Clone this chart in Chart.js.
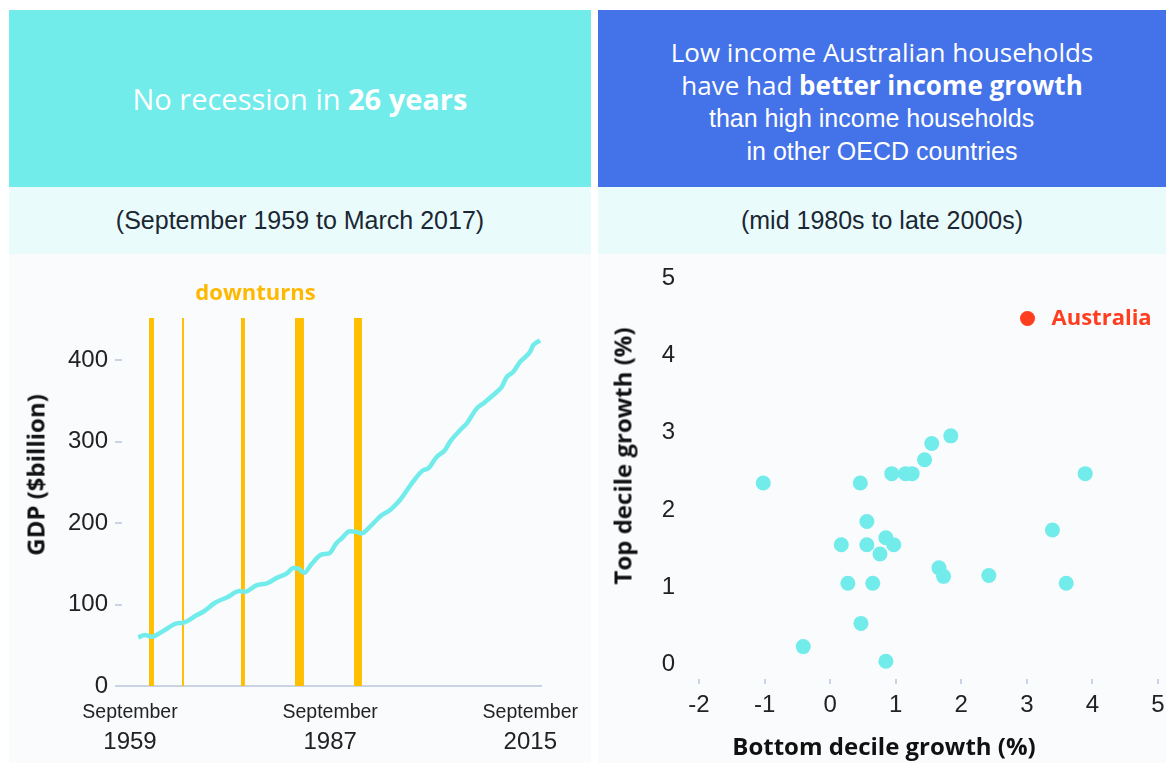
<!DOCTYPE html>
<html>
<head>
<meta charset="utf-8">
<script src="https://cdn.jsdelivr.net/npm/chart.js@4.4.0/dist/chart.umd.min.js"></script>
<style>
  body { margin: 0; background: #fff; width: 1166px; height: 763px; position: relative; overflow: hidden; font-family: 'Open Sans', sans-serif; }
  .panel { position: absolute; top: 10px; }
  #left { left: 9px; width: 582px; }
  #right { left: 598px; width: 568px; }
  .head { height: 177px; display: flex; flex-direction: column; justify-content: center; align-items: center; color: #fff; text-align: center; box-sizing: border-box; }
  #left .head { background: #72EBEB; font-size: 29px; }
  #right .head { background: #4472E8; font-size: 26px; line-height: 33px; padding-top: 7px; }
  .ar { font-family: 'Liberation Sans', Arial, sans-serif; font-size: 25px; }
  .sub { height: 67px; background: #EAFBFC; display: flex; align-items: center; justify-content: center; font-family: 'Liberation Sans', Arial, sans-serif; font-size: 25px; color: #1b2733; }
  .plot { height: 509px; background: #F9FBFD; position: relative; }
  canvas { display: block; }
  .axt { position: absolute; font-weight: 700; font-size: 24px; color: #111; white-space: nowrap; transform: translate(-50%, -50%); }
  .rot { transform: translate(-50%, -50%) rotate(-90deg); }
</style>
</head>
<body>
<div class="panel" id="left">
  <div class="head"><div>No recession in <b>26 years</b></div></div>
  <div class="sub">(September 1959 to March 2017)</div>
  <div class="plot">
    <canvas id="gdp-chart" width="582" height="509"></canvas>
    <div class="axt rot" style="left:26px; top:221px;">GDP ($billion)</div>
  </div>
</div>
<div class="panel" id="right">
  <div class="head">
    <div>Low income Australian households</div>
    <div>have had <b>better income growth</b></div>
    <div class="ar">than high income households&nbsp;&nbsp;&nbsp;</div>
    <div class="ar">in other OECD countries</div>
  </div>
  <div class="sub">(mid 1980s to late 2000s)</div>
  <div class="plot">
    <canvas id="decile-chart" width="568" height="509"></canvas>
    <div class="axt rot" style="left:24px; top:202px;">Top decile growth (%)</div>
    <div class="axt" style="left:286px; top:491px;">Bottom decile growth (%)</div>
  </div>
</div>

<script>
// GDP series (year as decimal, $billion)
const gdpYears = [1960.9, 1961.85, 1962.8, 1964.4, 1966.3, 1967.2, 1969.1, 1970.0, 1971.65, 1973.3,
    1975.1, 1975.8, 1977.5, 1978.9, 1980.3, 1981.7, 1982.6, 1983.3, 1984.1, 1985.15,
    1986.55, 1987.6, 1988.6, 1989.35, 1990.5, 1991.45, 1992.15, 1993.3, 1994.95, 1996.1,
    1997.5, 1999.15, 2000.75, 2001.45, 2002.65, 2003.8, 2004.5, 2006.15, 2006.85, 2008.25,
    2009.15, 2011.05, 2011.75, 2012.45, 2013.35, 2014.3, 2015.7, 2016.15, 2017.1];
const gdpValues = [59.8, 62.6, 60.5, 67.5, 76.9, 77.7, 87.1, 91.2, 102.2, 108.8,
    116.6, 115.7, 123.9, 126, 132.9, 138.3, 144.8, 144.4, 139, 149.7,
    161.6, 162.8, 175.1, 181.2, 190.2, 189.3, 187.4, 195.5, 209.8, 216,
    228.2, 248.7, 265, 267.1, 281.3, 289.6, 299.8, 316.2, 322.3, 340.7,
    346.9, 361.1, 367.2, 379.5, 385.6, 397.9, 410.2, 418.4, 424.5];

// Downturn periods
const downturnStart = [1962.4, 1967.02, 1975.27, 1982.83, 1991.08];
const downturnEnd = [1963.1, 1967.3, 1975.83, 1984.09, 1992.2];

// Axis ticks for the GDP chart
const gdpTicks = [0, 100, 200, 300, 400];
const dateTicks = [1959.75, 1987.75, 2015.75];
const dateMonths = ['September', 'September', 'September'];
const dateYears = ['1959', '1987', '2015'];
const gdpMax = 452;

// Income growth by country (bottom decile %, top decile %)
const otherBottom = [-1.02, 0.46, 0.94, 1.15, 1.25, 1.44, 1.55, 1.84, 3.89, 0.56,
    0.17, 0.56, 0.85, 0.76, 0.97, 0.27, 0.65, 0.47, -0.41, 0.85,
    3.39, 1.66, 1.73, 2.42, 3.6];
const otherTop = [2.35, 2.35, 2.47, 2.47, 2.47, 2.65, 2.86, 2.96, 2.47, 1.85,
    1.55, 1.55, 1.64, 1.43, 1.55, 1.05, 1.05, 0.53, 0.23, 0.04,
    1.74, 1.25, 1.14, 1.15, 1.05];
const australiaBottom = [3.01];
const australiaTop = [4.48];
const highlightName = 'Australia';
const bottomTicks = [-2, -1, 0, 1, 2, 3, 4, 5];
const topTicks = [0, 1, 2, 3, 4, 5];

Chart.defaults.font.family = "'Liberation Sans', Arial, sans-serif";
Chart.defaults.color = '#222';
Chart.defaults.animation = false;
Chart.defaults.plugins.legend.display = false;
Chart.defaults.plugins.tooltip.enabled = false;

const cyan = '#72EBEB';
const orange = '#FFBF00';
const axisGrey = '#C8D4E3';
const clear = 'rgba(0,0,0,0)';

// Label above the downturn bands
const downturnLabel = {
    id: 'downturnLabel',
    afterDraw(chart) {
        const { ctx, chartArea } = chart;
        const x = chart.scales.x;
        const mid = (downturnStart[0] + downturnEnd[downturnEnd.length - 1]) / 2;
        ctx.save();
        ctx.font = "700 22px 'Open Sans'";
        ctx.fillStyle = '#FFB800';
        ctx.textAlign = 'center';
        ctx.textBaseline = 'middle';
        ctx.fillText('downturns', x.getPixelForValue(mid), chartArea.top - 24);
        ctx.restore();
    }
};

// Band datasets for downturns
const bandSets = downturnStart.map(function(s, i) {
    return {
        type: 'line',
        data: [{ x: s, y: gdpMax }, { x: downturnEnd[i], y: gdpMax }],
        fill: 'origin',
        backgroundColor: orange,
        borderWidth: 0,
        pointRadius: 0,
        order: 1
    };
});

new Chart(document.getElementById('gdp-chart'), {
    type: 'line',
    data: {
        datasets: [{
            data: gdpYears.map((x, i) => ({ x: x, y: gdpValues[i] })),
            borderColor: cyan,
            borderWidth: 4.5,
            cubicInterpolationMode: 'monotone',
            pointRadius: 0,
            fill: false,
            order: 0
        }].concat(bandSets)
    },
    options: {
        responsive: false,
        layout: { padding: { left: 0, right: 50, top: 64, bottom: 0 } },
        scales: {
            x: {
                type: 'linear',
                min: 1958.63,
                max: 2017.25,
                weight: 0,
                afterBuildTicks: s => { s.ticks = dateTicks.map(v => ({ value: v })); },
                afterFit: s => { s.height = 38; },
                ticks: {
                    autoSkip: false, maxRotation: 0, padding: 2,
                    font: { size: 19.5 }, color: '#222',
                    callback: (v, i) => dateMonths[i]
                },
                grid: { display: true, drawOnChartArea: false, drawTicks: true, tickLength: 13, color: clear },
                border: { display: true, color: axisGrey, width: 2 }
            },
            x2: {
                type: 'linear',
                position: 'bottom',
                min: 1958.63,
                max: 2017.25,
                weight: 1,
                afterBuildTicks: s => { s.ticks = dateTicks.map(v => ({ value: v })); },
                afterFit: s => { s.height = 39; },
                ticks: {
                    autoSkip: false, maxRotation: 0, padding: 1,
                    font: { size: 24, lineHeight: 0.8 }, color: '#222',
                    callback: (v, i) => dateYears[i]
                },
                grid: { display: false },
                border: { display: false }
            },
            y: {
                min: 0,
                max: gdpMax,
                afterBuildTicks: s => { s.ticks = gdpTicks.map(v => ({ value: v })); },
                afterFit: s => { s.width = 113; },
                ticks: { padding: 7, font: { size: 24 }, color: '#222' },
                grid: { display: true, drawOnChartArea: false, drawTicks: true, tickLength: 7, color: axisGrey, lineWidth: 2 },
                border: { display: false }
            }
        }
    },
    plugins: [downturnLabel]
});

// Name next to the highlighted point
const pointLabel = {
    id: 'pointLabel',
    afterDatasetsDraw(chart) {
        const pt = chart.getDatasetMeta(1).data[0];
        const ctx = chart.ctx;
        ctx.save();
        ctx.font = "700 22px 'Open Sans'";
        ctx.fillStyle = '#FF3D1F';
        ctx.textAlign = 'left';
        ctx.textBaseline = 'middle';
        ctx.fillText(highlightName, pt.x + 24, pt.y);
        ctx.restore();
    }
};

new Chart(document.getElementById('decile-chart'), {
    type: 'scatter',
    data: {
        datasets: [
            {
                data: otherBottom.map((x, i) => ({ x: x, y: otherTop[i] })),
                backgroundColor: cyan,
                pointRadius: 7.5,
                borderWidth: 0
            },
            {
                data: australiaBottom.map((x, i) => ({ x: x, y: australiaTop[i] })),
                backgroundColor: '#FF3D1F',
                pointRadius: 7.5,
                borderWidth: 0
            }
        ]
    },
    options: {
        responsive: false,
        layout: { padding: { left: 0, right: 8, top: 11, bottom: 0 } },
        scales: {
            x: {
                type: 'linear',
                min: -2,
                max: 5,
                afterBuildTicks: s => { s.ticks = bottomTicks.map(v => ({ value: v })); },
                afterFit: s => { s.height = 84; },
                ticks: { autoSkip: false, maxRotation: 0, padding: 1, font: { size: 24, lineHeight: 1.67 }, color: '#222' },
                grid: { display: true, drawOnChartArea: false, drawTicks: true, tickLength: 5, color: axisGrey, lineWidth: 2 },
                border: { display: false }
            },
            y: {
                min: -0.19,
                max: 5.15,
                afterBuildTicks: s => { s.ticks = topTicks.map(v => ({ value: v })); },
                afterFit: s => { s.width = 101; },
                ticks: { padding: 2, font: { size: 24, lineHeight: 0.9 }, color: '#222' },
                grid: { display: true, drawOnChartArea: false, drawTicks: true, tickLength: 22, color: clear },
                border: { display: false }
            }
        }
    },
    plugins: [pointLabel]
});
</script>
</body>
</html>
